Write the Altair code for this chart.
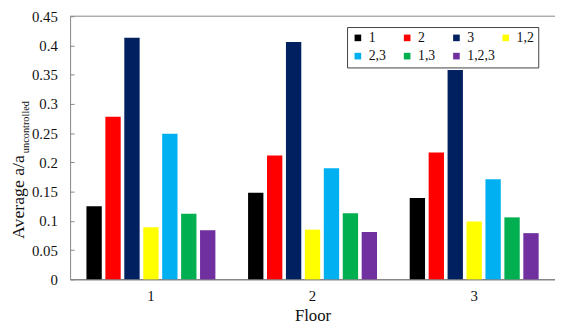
import altair as alt
import pandas as pd

floors = ["1", "2", "3"]
series = ["1", "2", "3", "1,2", "2,3", "1,3", "1,2,3"]
colors = ["#000000", "#FF0000", "#002060", "#FFFF00", "#00B0F0", "#00B050", "#7030A0"]

v_1 = [0.125, 0.148, 0.139]
v_2 = [0.278, 0.212, 0.217]
v_3 = [0.413, 0.406, 0.358]
v_12 = [0.089, 0.085, 0.099]
v_23 = [0.249, 0.190, 0.171]
v_13 = [0.112, 0.113, 0.106]
v_123 = [0.084, 0.081, 0.079]

y_ticks = [0, 0.05, 0.1, 0.15, 0.2, 0.25, 0.3, 0.35, 0.4, 0.45]

all_vals = [v_1, v_2, v_3, v_12, v_23, v_13, v_123]
rows = []
for s, vals in zip(series, all_vals):
    for f, v in zip(floors, vals):
        rows.append({"Floor": f, "Series": s, "value": v})
df = pd.DataFrame(rows)

W, H = 492, 267
FONT = "Liberation Serif"
yscale = alt.Scale(domain=[0, 0.45], nice=False, zero=True)

bars = alt.Chart(df).mark_bar().encode(
    x=alt.X("Floor:N", sort=floors,
            scale=alt.Scale(paddingInner=0.18, paddingOuter=0.09),
            axis=alt.Axis(title="Floor", labelAngle=0, ticks=False, grid=False,
                          labelPadding=9, titlePadding=5,
                          labelFontSize=15, titleFontSize=17,
                          labelFont=FONT, titleFont=FONT,
                          labelColor="#111", titleColor="#111",
                          titleFontWeight="normal",
                          domainColor="#868686", domainWidth=1.5)),
    xOffset=alt.XOffset("Series:N", sort=series,
                        scale=alt.Scale(paddingInner=0.19, paddingOuter=0.095)),
    y=alt.Y("value:Q", scale=yscale,
            axis=alt.Axis(title=None, values=y_ticks, ticks=False,
                          grid=True, gridColor="#868686", gridWidth=1,
                          gridDash=[4, 2000],
                          labelOverlap=False, labelFlush=False,
                          labelPadding=13, labelFontSize=15, labelFont=FONT,
                          labelColor="#111", domainColor="#868686", domainWidth=1,
                          labelExpr="datum.value == 0 ? '0' : format(datum.value, '')")),
    color=alt.Color("Series:N", sort=series,
                    scale=alt.Scale(domain=series, range=colors),
                    legend=alt.Legend(title=None, orient="none", legendX=281, legendY=11,
                                      direction="horizontal", columns=4, gridAlign="all",
                                      columnPadding=4, rowPadding=4.5,
                                      symbolType="square", symbolSize=45,
                                      symbolStrokeWidth=0, labelOffset=4,
                                      labelFont=FONT, labelFontSize=14, labelColor="#111",
                                      strokeColor="#404040", fillColor="white",
                                      padding=4)),
)

top_df = pd.DataFrame({"k": [0]})
top_line = alt.Chart(top_df).mark_rule(color="#868686", strokeWidth=1).encode(
    y=alt.value(0), x=alt.value(0), x2=alt.value(W),
)

title_main = alt.Chart(pd.DataFrame({"t": ["Average a/a"]})).mark_text(
    font=FONT, fontSize=18, angle=270, align="left", baseline="alphabetic", color="#111"
).encode(text="t:N", x=alt.value(-47), y=alt.value(226))

title_sub = alt.Chart(pd.DataFrame({"t": ["uncontrolled"]})).mark_text(
    font=FONT, fontSize=10.5, angle=270, align="left", baseline="alphabetic", color="#111"
).encode(text="t:N", x=alt.value(-42), y=alt.value(139))

chart = alt.layer(bars, top_line, title_main, title_sub).properties(
    width=W, height=H,
    autosize=alt.AutoSizeParams(type="none"),
    padding={"left": 63, "top": 6, "right": 0, "bottom": 44},
).configure_view(stroke=None)

chart.save("out.html", embed_options={"renderer": "svg", "actions": False})
